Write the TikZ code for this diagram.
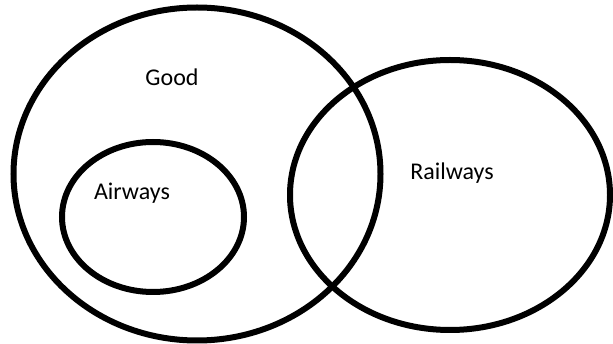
\documentclass[tikz,border=0pt]{standalone}
\usepackage{fontspec}
\setmainfont{Carlito}
\usetikzlibrary{shapes.geometric,positioning}

\begin{document}
\begin{tikzpicture}[x=1pt,y=-1pt,line width=6pt,
        set/.style={draw,ellipse,inner sep=0pt},
        lbl/.style={font=\fontsize{24}{28}\selectfont,text=black}]
            \useasboundingbox (0,0) rectangle (613,344);
            \node [set,minimum width=367pt,minimum height=333pt] (good) at (197,174) {};
            \node [set,minimum width=320pt,minimum height=270pt] (rail) at (450,195) {};
            \node [set,minimum width=182pt,minimum height=150pt] (air)  at (153,217) {};

            \node [lbl] (goodtxt) at (172,77)  {Good};
            \node [lbl] (airtxt)  at (132,193) {Airways};
            \node [lbl] (railtxt) at (452,173) {Railways};
        \end{tikzpicture}
\end{document}
